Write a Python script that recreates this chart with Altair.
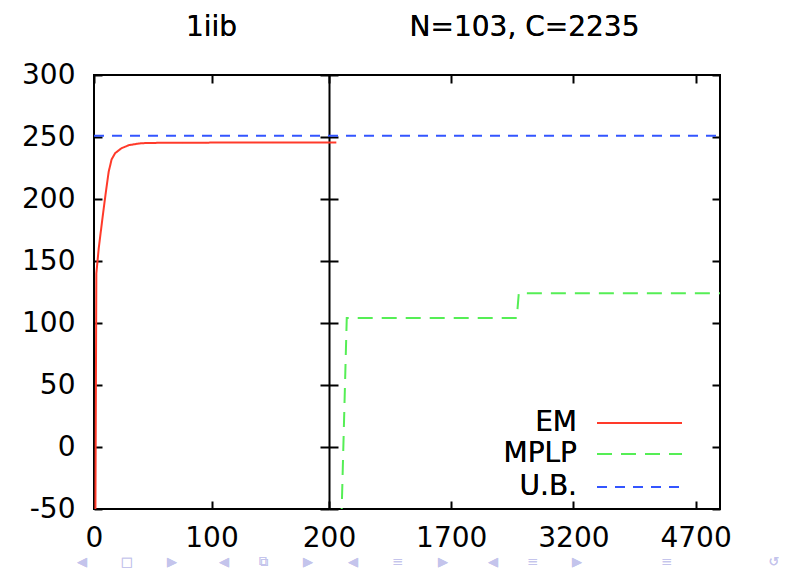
import altair as alt
import pandas as pd

# ---- data ----
em_x = [1.0, 2.0, 4.0, 7.0, 10.0, 12.5, 15.0, 18.0, 23.5, 30.0, 40.0, 60, 120, 200, 290]
em_y = [-100, 140, 160, 183, 205, 222, 232, 237, 241, 243.5, 245, 245.4, 245.5, 245.5, 245.5]

mplp_x = [336, 418, 2505, 2530, 5000]
mplp_y = [-100, 104, 104, 124, 124]

ub_x = [0, 5000]
ub_y = [251, 251]

series = ["EM", "MPLP", "U.B."]
colors = ["#ff3a2a", "#55ee55", "#3355ff"]
dashes = [[1, 0], [15, 9], [10, 8]]

x_ticks = [0, 100, 200, 1700, 3200, 4700]
y_ticks = [-50, 0, 50, 100, 150, 200, 250, 300]
panel_titles = ["1iib", "N=103, C=2235"]

# slide navigation glyphs along the bottom edge
nav_glyphs = ["◀", "□", "▶", "◀", "⧉", "▶", "◀", "≡", "▶", "◀", "≡", "▶", "≡", "↺"]
nav_x = [82, 127, 172, 224, 263, 308, 353, 398, 443, 493, 533, 577, 667, 774]

# piecewise x scale: left panel 0..200, right panel 200..5000
x_domain = [0, 200, 5000]
W, H = 626, 434
MID = 235
x_range = [0, MID, W]
LEFT, TOP = 94, 75

FONT = "DejaVu Sans"
FS = 28

rows = []
for name, xs_, ys_ in [("EM", em_x, em_y), ("MPLP", mplp_x, mplp_y), ("U.B.", ub_x, ub_y)]:
    for i, (a, b) in enumerate(zip(xs_, ys_)):
        rows.append({"series": name, "x": a, "y": b, "order": i})
df = pd.DataFrame(rows)

xs = alt.Scale(domain=x_domain, range=x_range, nice=False, zero=False)
ys = alt.Scale(domain=[-50, 300], nice=False, zero=False)

lines = alt.Chart(df).mark_line(clip=True, strokeWidth=2).encode(
    x=alt.X("x:Q", scale=xs, axis=alt.Axis(values=x_ticks, orient="bottom", ticks=False, domain=False,
                                           labelFont=FONT, labelFontSize=FS, labelColor="black",
                                           labelExpr="'' + datum.value",
                                           labelPadding=15, title=None, grid=False, labelFlush=False)),
    y=alt.Y("y:Q", scale=ys, axis=alt.Axis(values=y_ticks, orient="left", ticks=False, domain=False,
                                           labelFont=FONT, labelFontSize=FS, labelColor="black",
                                           labelExpr="'' + datum.value",
                                           labelPadding=19, title=None, grid=False, labelFlush=False)),
    color=alt.Color("series:N", scale=alt.Scale(domain=series, range=colors), legend=None),
    strokeDash=alt.StrokeDash("series:N", scale=alt.Scale(domain=series, range=dashes), legend=None),
    order="order:Q",
)

tick_df = pd.DataFrame({"x": [x_domain[0], x_domain[-1]], "y": [y_ticks[0], y_ticks[-1]]})


def tick_layer(xaxis, yaxis):
    return alt.Chart(tick_df).mark_point(opacity=0).encode(
        x=alt.X("x:Q", scale=xs, axis=xaxis),
        y=alt.Y("y:Q", scale=ys, axis=yaxis),
    )


def ax(orient, values, offset, size, domain=False):
    return alt.Axis(orient=orient, values=values, offset=offset, tickSize=size, tickWidth=2,
                    tickColor="black", labels=False, domain=domain, domainColor="black",
                    domainWidth=2, title=None, grid=False)


# inward ticks on the outer frame
t1 = tick_layer(ax("top", x_ticks, -H, 8), ax("right", y_ticks, -W, 8))
t2 = tick_layer(ax("bottom", x_ticks, -H, 8), ax("left", y_ticks, -W, 8))
# middle border between the two panels, with ticks on both sides
t3 = tick_layer(None, ax("left", y_ticks, -MID, 9, domain=True))
t4 = tick_layer(None, ax("right", y_ticks, -(W - MID), 9))

# panel titles
title_layers = []
for t, px in zip(panel_titles, [MID / 2, (MID + W) / 2]):
    title_layers.append(
        alt.Chart(tick_df).mark_text(font=FONT, fontSize=FS, align="center", baseline="alphabetic",
                                     color="black").encode(
            x=alt.value(px), y=alt.value(-39), text=alt.value(t))
    )

# legend (manual, labels to the left of the line samples)
leg_layers = []
for name, c, d, py in zip(series, colors, dashes, [348, 379, 412]):
    leg_layers.append(
        alt.Chart(tick_df).mark_text(font=FONT, fontSize=FS, align="right", baseline="middle",
                                     color="black").encode(
            x=alt.value(483), y=alt.value(py), text=alt.value(name))
    )
    leg_layers.append(
        alt.Chart(tick_df).mark_rule(color=c, strokeDash=d, strokeWidth=2).encode(
            x=alt.value(503), x2=alt.value(588), y=alt.value(py))
    )

nav_layers = []
for g, gx in zip(nav_glyphs, nav_x):
    nav_layers.append(
        alt.Chart(tick_df).mark_text(font=FONT, fontSize=13, align="center", baseline="middle",
                                     color="#c4c4ec").encode(
            x=alt.value(gx - LEFT), y=alt.value(562 - TOP), text=alt.value(g))
    )

chart = alt.layer(*nav_layers, lines, t1, t2, t3, t4, *title_layers, *leg_layers).resolve_axis(
    x="independent", y="independent"
).properties(
    width=W, height=H,
    autosize=alt.AutoSizeParams(type="none"),
    padding={"left": LEFT, "top": TOP, "right": 793 - LEFT - W, "bottom": 568 - TOP - H},
    background="white",
).configure_view(stroke="black", strokeWidth=2)

chart.save("out.html", embed_options={"renderer": "svg", "actions": False})
